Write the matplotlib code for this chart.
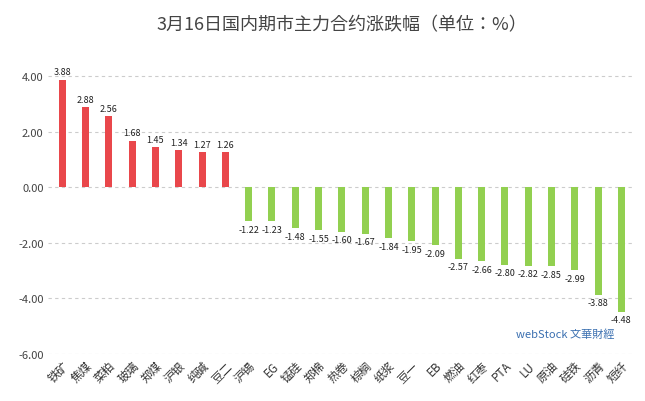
import matplotlib.pyplot as plt
from matplotlib import font_manager
import numpy as np

cjk = sorted({f.name for f in font_manager.fontManager.ttflist if 'CJK' in f.name})
plt.rcParams['font.family'] = 'sans-serif'
plt.rcParams['font.sans-serif'] = cjk + ['DejaVu Sans']

names = ['铁矿', '焦煤', '菜粕', '玻璃', '郑煤', '沪银', '纯碱', '豆二', '沪锡', 'EG', '锰硅', '郑棉', '热卷',
         '棕榈', '纸浆', '豆一', 'EB', '燃油', '红枣', 'PTA', 'LU', '原油', '硅铁', '沥青', '短纤']
values = [3.88, 2.88, 2.56, 1.68, 1.45, 1.34, 1.27, 1.26, -1.22, -1.23, -1.48, -1.55, -1.60,
          -1.67, -1.84, -1.95, -2.09, -2.57, -2.66, -2.80, -2.82, -2.85, -2.99, -3.88, -4.48]

fig = plt.figure(figsize=(6.45, 4.02), dpi=100)
ax = fig.add_axes([0.075, 0.117, 0.91, 0.76])
x = np.arange(len(names))
colors = ['#E9474B' if v > 0 else '#92D050' for v in values]
ax.bar(x, values, width=0.3, color=colors, zorder=3)
for xi, v in zip(x, values):
    ax.text(xi, v + (0.12 if v > 0 else -0.12), f'{v:.2f}', ha='center',
            va='bottom' if v > 0 else 'top', fontsize=6.5, color='#222222')
ax.set_ylim(-6, 5)
ax.set_xlim(-0.6, len(names) - 0.4)
ax.set_yticks(np.arange(-6, 5, 2))
ax.set_yticklabels([f'{t:.2f}' for t in np.arange(-6, 5, 2)], fontsize=8, color='#444444')
ax.yaxis.grid(True, linestyle=(0, (3, 3)), color='#cccccc', linewidth=0.8, zorder=0)
ax.set_xticks(x)
ax.set_xticklabels(names, rotation=45, ha='right', rotation_mode='anchor', fontsize=8.5, color='#333333')
for s in ax.spines.values():
    s.set_visible(False)
ax.tick_params(length=0)
ax.set_title('3月16日国内期市主力合约涨跌幅（单位：%）', fontsize=13, color='#444444', pad=14)
fig.text(0.80, 0.16, 'webStock 文華財經', fontsize=8, color='#3a6fb0')
fig.savefig('out.png', dpi=100)
